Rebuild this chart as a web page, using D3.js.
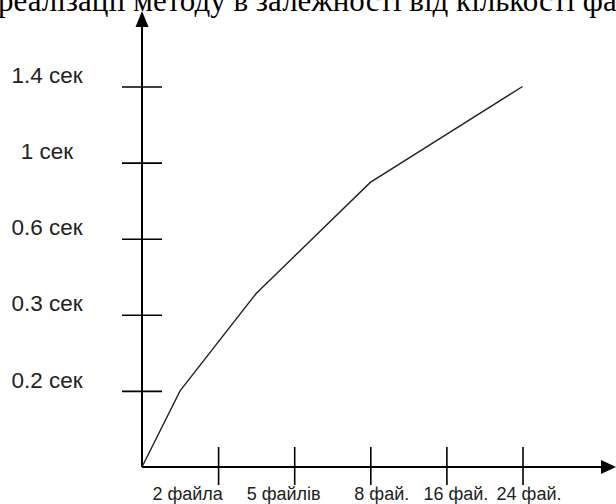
<!DOCTYPE html>
<html>
<head>
<meta charset="utf-8">
<script src="https://cdn.jsdelivr.net/npm/d3@7"></script>
<style>
  html, body { margin: 0; padding: 0; background: #fff; overflow: hidden; }
  svg { display: block; }
</style>
</head>
<body>
<svg id="chart" width="616" height="504"></svg>
<script>
// ---- data ----
const title = "реалізації методу в залежності від кількості файлів";
const xCategories = ["2 файла", "5 файлів", "8 фай.", "16 фай.", "24 фай."];
const yTickLabels = ["0.2 сек", "0.3 сек", "0.6 сек", "1 сек", "1.4 сек"];
// line vertices in axis units (0 = origin, 1..5 = tick positions)
const lineX = [0, 0.5, 1.5, 3, 5];
const lineY = [0, 1, 2.28, 3.74, 5];

// ---- layout / style ----
const origin = { x: 142, y: 467 };
const unit = 76.1;
const xLabelDx = [-31, -11, 11, 9, 6];

const svg = d3.select("#chart");

const x = d3.scaleLinear().domain([0, 5]).range([origin.x, origin.x + 5 * unit]);
const y = d3.scaleLinear().domain([0, 5]).range([origin.y, origin.y - 5 * unit]);

// title (cropped at top like the reference)
svg.append("text")
  .attr("x", -2)
  .attr("y", 11)
  .attr("font-family", "'Liberation Serif', 'Times New Roman', serif")
  .attr("font-size", 31)
  .attr("fill", "#000")
  .text(title);

// Y axis line
svg.append("line")
  .attr("x1", origin.x).attr("x2", origin.x)
  .attr("y1", origin.y).attr("y2", 22)
  .attr("stroke", "#000").attr("stroke-width", 2);
svg.append("path")
  .attr("d", `M${origin.x},11 L${origin.x - 6.5},27 L${origin.x + 6.5},27 Z`)
  .attr("fill", "#000");

// X axis line
svg.append("line")
  .attr("x1", origin.x).attr("x2", 606)
  .attr("y1", origin.y).attr("y2", origin.y)
  .attr("stroke", "#000").attr("stroke-width", 2);
svg.append("path")
  .attr("d", `M616,${origin.y} L601,${origin.y - 7} L601,${origin.y + 7} Z`)
  .attr("fill", "#000");

// Y axis ticks via d3 axis
const yAxis = d3.axisLeft(y)
  .tickValues([1, 2, 3, 4, 5])
  .tickFormat((d) => yTickLabels[d - 1])
  .tickSize(0);
const gy = svg.append("g")
  .attr("transform", `translate(${origin.x},0)`)
  .call(yAxis);
gy.select(".domain").remove();
gy.selectAll(".tick line")
  .attr("x1", -20).attr("x2", 20)
  .attr("stroke", "#000").attr("stroke-width", 1.6);
gy.selectAll(".tick text")
  .attr("x", 47 - origin.x)
  .attr("dy", "-0.17em")
  .attr("text-anchor", "middle")
  .attr("font-family", "'Liberation Sans', Arial, sans-serif")
  .attr("font-size", 22.5)
  .attr("fill", "#222");

// X axis ticks via d3 axis
const xAxis = d3.axisBottom(x)
  .tickValues([1, 2, 3, 4, 5])
  .tickFormat((d) => xCategories[d - 1])
  .tickSize(0);
const gx = svg.append("g")
  .attr("transform", `translate(0,${origin.y})`)
  .call(xAxis);
gx.select(".domain").remove();
gx.selectAll(".tick line")
  .attr("y1", -20).attr("y2", 18)
  .attr("stroke", "#000").attr("stroke-width", 1.6);
gx.selectAll(".tick text")
  .attr("x", (d) => xLabelDx[d - 1])
  .attr("y", 32.5)
  .attr("dy", 0)
  .attr("text-anchor", "middle")
  .attr("font-family", "'Liberation Sans', Arial, sans-serif")
  .attr("font-size", 18)
  .attr("fill", "#222");

// data line
const pts = lineX.map((v, i) => [v, lineY[i]]);
svg.append("path")
  .datum(pts)
  .attr("fill", "none")
  .attr("stroke", "#222")
  .attr("stroke-width", 1.4)
  .attr("d", d3.line().x((d) => x(d[0])).y((d) => y(d[1])));
</script>
</body>
</html>
